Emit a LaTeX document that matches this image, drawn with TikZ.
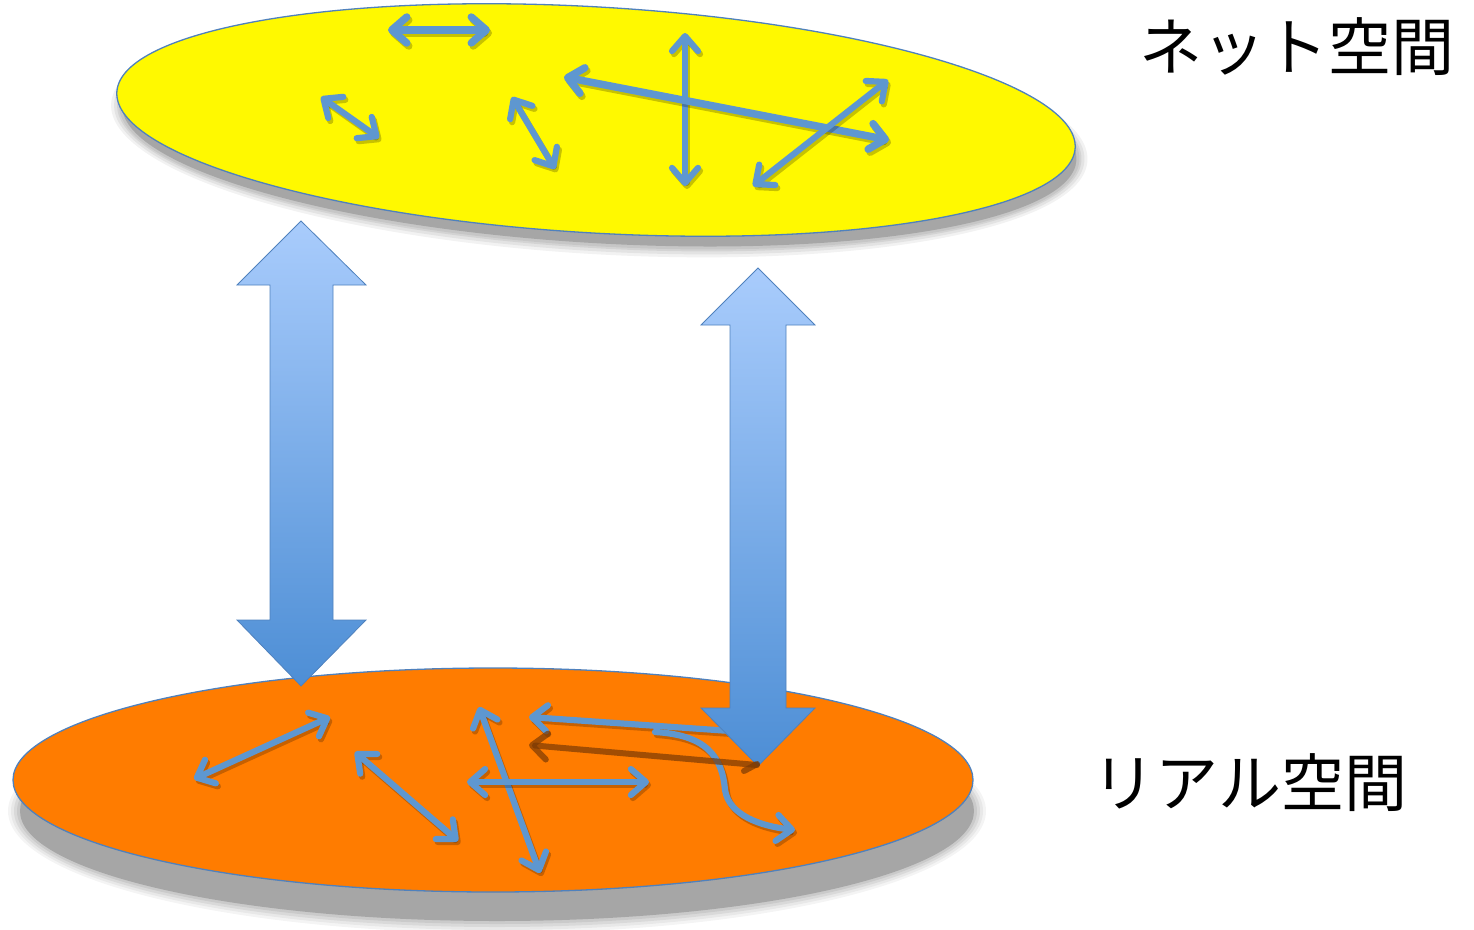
\documentclass[tikz,border=0pt]{standalone}
\usepackage{fontspec}
\newfontfamily\jp{Noto Sans CJK JP}
\usetikzlibrary{arrows.meta}
\definecolor{yel}{HTML}{FFF900}
\definecolor{org}{HTML}{FF7C00}
\definecolor{edge}{HTML}{4F81BD}
\definecolor{ab}{HTML}{5E97D0}
\definecolor{shd}{HTML}{A6A6A6}
\definecolor{bigtop}{HTML}{A9CCFC}
\definecolor{bigbot}{HTML}{4D8ED5}
\definecolor{brn}{HTML}{7A3A05}
\newcommand\sarr[2][]{\draw[arrshd,#1] #2; \draw[arr,#1] #2;}
\begin{document}
\begin{tikzpicture}[x=1pt,y=-1pt,
  >={Straight Barb[length=15pt,width=26pt,round]},
  arr/.style={line width=6.2pt,draw=ab,line cap=round},
  arrshd/.style={line width=6.2pt,draw=black,opacity=.22,line cap=round,shift={(2pt,-3pt)}},
  thick arr/.style={line width=7.5pt},
  bigarrow/.style={top color=bigtop,bottom color=bigbot,draw=edge,line width=0.8pt},
  label/.style={font=\jp\fontsize{63}{63}\selectfont,inner sep=0pt}]
\useasboundingbox (0,0) rectangle (1474,929);

% ---------- top ellipse (net space) ----------
\begin{scope}[rotate around={-3.35:(596,120)}]
  \foreach \d/\o in {10/.15,7/.2,4/.25,2/.3}{
    \fill[shd,opacity=\o] (600,132) ellipse [x radius={(479+\d)*1pt}, y radius={(112+\d)*1pt}];}
  \fill[shd] (600,132) ellipse [x radius=478pt, y radius=111pt];
  \draw[edge,line width=1.3pt,fill=yel] (596,120) ellipse [x radius=480pt, y radius=113pt];
\end{scope}

\sarr[thick arr,<->]{(388,30) -- (490,30)}
\sarr[<->]{(321,97) -- (379,138)}
\sarr[<->]{(512,97) -- (555,169)}
\sarr[<->]{(685,33) -- (685,186)}
\sarr[thick arr,<->]{(564,77) -- (889,140)}
\sarr[<->]{(888,80) -- (753,186)}

% ---------- bottom ellipse (real space) ----------
\foreach \d/\o in {12/.12,9/.16,6/.22,3/.3}{
  \fill[shd,opacity=\o] (497,811) ellipse [x radius={(477+\d)*1pt}, y radius={(110+\d)*1pt}];}
\fill[shd] (497,811) ellipse [x radius=477pt, y radius=110pt];
\draw[edge,line width=1.3pt,fill=org] (493,780) ellipse [x radius=480pt, y radius=112pt];

\sarr[<->]{(194,779) -- (330,717)}
\sarr[<->]{(355,752) -- (458,841)}
\sarr[<->]{(479,707) -- (540,873)}
\sarr[<->]{(467,782) -- (649,782)}
\sarr[->]{(745,732) -- (529,717)}
\sarr[->]{(655,732) .. controls (705,735) and (722,755) .. (725,790) .. controls (729,815) and (760,826) .. (795,830)}

% ---------- big double arrows ----------
\draw[bigarrow] (301,221) -- (366,285) -- (333,285) -- (333,620) -- (366,620) -- (301,686)
  -- (237,620) -- (270,620) -- (270,285) -- (237,285) -- cycle;
\draw[bigarrow] (758,268) -- (815,325) -- (786,325) -- (786,708) -- (815,708) -- (758,766)
  -- (701,708) -- (730,708) -- (730,325) -- (701,325) -- cycle;

% brown arrow on top
\draw[brn,opacity=.7,line width=6pt,line cap=round,->] (757,765) -- (529,745);
\draw[brn,opacity=.7,line width=6pt,line cap=round] (744,771) -- (757,764);

% ---------- labels ----------
\node[label] (net) at (1297,47) {ネット空間};
\node[label] (real) at (1250,783) {リアル空間};
\end{tikzpicture}
\end{document}
